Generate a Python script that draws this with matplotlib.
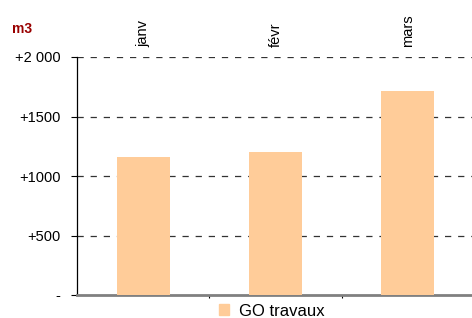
import numpy as np
import matplotlib
matplotlib.use('Agg')
import matplotlib.pyplot as plt
from matplotlib.patches import Patch

plt.rcParams['font.family'] = ['Liberation Sans', 'DejaVu Sans']

months = ['janv', 'févr', 'mars']
go_travaux = [1160, 1202, 1714]
y_ticks = [0, 500, 1000, 1500, 2000]
y_labels = ['-', '+500', '+1000', '+1500', '+2 000']

bar_color = '#FFCC99'

fig = plt.figure(figsize=(4.72, 3.18), dpi=100)
ax = fig.add_axes([77 / 472, 23 / 318, 397 / 472, 238 / 318])

x = np.arange(len(months))
ax.bar(x, go_travaux, width=0.4, color=bar_color, zorder=3)

ax.set_xlim(-0.5, len(months) - 0.5)
ax.set_ylim(0, 2000)

ax.set_yticks(y_ticks)
ax.set_yticklabels(y_labels, fontsize=10.5)
ax.tick_params(axis='y', direction='out', length=4, width=0.8, pad=8)

# dashed gridlines, skip the zero line
for v in y_ticks[1:]:
    ax.axhline(v, color='#333333', lw=0.9, linestyle=(0, (5, 5.5)), zorder=1)

ax.set_xticks([])
ax.set_xticks([0.5, 1.5], minor=True)
ax.tick_params(axis='x', which='minor', direction='out', length=2, width=0.8)

for side in ['top', 'right']:
    ax.spines[side].set_visible(False)
ax.spines['left'].set_color('black')
ax.spines['left'].set_linewidth(0.9)
ax.spines['bottom'].set_color('#808080')
ax.spines['bottom'].set_linewidth(2)

# month labels above the plot
for i, m in enumerate(months):
    ax.text(i, 2085, m, rotation=90, ha='center', va='bottom', fontsize=10.5)

fig.text(12 / 472, 1 - 29 / 318, 'm3', color='#990000', fontsize=10,
         fontweight='bold', va='center', ha='left')

fig.legend(handles=[Patch(color=bar_color, label='GO travaux')],
           loc='center', bbox_to_anchor=(272 / 472, 1 - 311 / 318),
           frameon=False, fontsize=12, handlelength=0.6, handleheight=0.6,
           handletextpad=0.6, borderaxespad=0)

fig.savefig('out.png', dpi=100)
